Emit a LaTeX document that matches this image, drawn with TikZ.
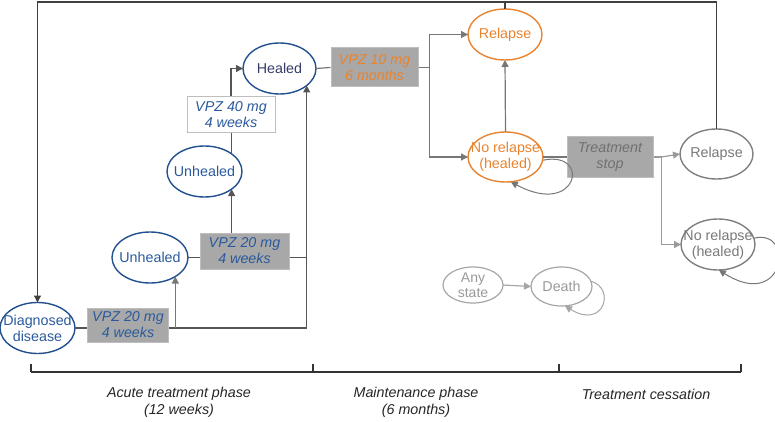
\documentclass[tikz,border=0pt]{standalone}
\usepackage{fontspec}
\setmainfont{Liberation Sans}
\usetikzlibrary{shapes.geometric,arrows.meta}
\definecolor{cblue}{HTML}{22508F}
\definecolor{cbluet}{HTML}{2A5A9C}
\definecolor{cnavy}{HTML}{333B66}
\definecolor{corange}{HTML}{E8832F}
\definecolor{cboxfill}{HTML}{A8A8A8}
\definecolor{cboxedge}{HTML}{BEBEBE}
\definecolor{cstop}{HTML}{707070}
\definecolor{cgrayell}{HTML}{7F7F7F}
\definecolor{cgraytxt}{HTML}{787878}
\definecolor{clight}{HTML}{A6A6A6}
\definecolor{clighttxt}{HTML}{999999}
\definecolor{cline}{HTML}{555555}
\definecolor{cline2}{HTML}{777777}
\definecolor{cline3}{HTML}{9A9A9A}
\begin{document}
\begin{tikzpicture}[x=1pt,y=-1pt,
  font=\fontsize{14.3}{16}\selectfont,
  ell/.style={ellipse, draw, line width=1.4pt, inner xsep=-20pt, inner ysep=-4pt, align=center, outer sep=0pt},
  blueell/.style={ell, draw=cblue, text=cbluet},
  orell/.style={ell, draw=corange, text=corange},
  grell/.style={ell, draw=cgrayell, text=cgraytxt},
  ltell/.style={ell, draw=clight, text=clighttxt, line width=1.2pt},
  boxg/.style={rectangle, fill=cboxfill, draw=cboxedge, line width=1pt, inner sep=0pt, align=center, font=\fontsize{14.3}{16}\selectfont\itshape},
  boxw/.style={boxg, fill=white, draw=cboxedge},
  conn/.style={draw=cline, line width=1.2pt},
  tip/.style={-{Triangle[length=7pt,width=7pt]}},
  phase/.style={align=center, font=\fontsize{14.3}{17}\selectfont\itshape, text=black!85}
]
\useasboundingbox (0,0) rectangle (775,422);

% nodes
\node[blueell, minimum width=75pt, minimum height=51pt] (diag) at (37.5,328) {Diagnosed\\disease};
\node[boxg, text=cbluet, minimum width=81pt, minimum height=34pt] (box1) at (128,325) {VPZ 20 mg\\4 weeks};
\node[blueell, minimum width=76pt, minimum height=51pt] (unh1) at (150,257.5) {Unhealed};
\node[boxg, text=cbluet, minimum width=89pt, minimum height=36pt] (box2) at (244.5,251) {VPZ 20 mg\\4 weeks};
\node[blueell, minimum width=75pt, minimum height=51pt] (unh2) at (204.5,171.5) {Unhealed};
\node[boxw, text=cbluet, minimum width=88pt, minimum height=36pt] (box3) at (231,115) {VPZ 40 mg\\4 weeks};
\node[blueell, text=cnavy, minimum width=73pt, minimum height=51pt] (healed) at (279.5,68.5) {Healed};
\node[boxg, text=corange, minimum width=87pt, minimum height=39pt] (box4) at (374.5,67.5) {VPZ 10 mg\\6 months};
\node[orell, minimum width=74pt, minimum height=51pt] (rel1) at (505,34.5) {Relapse};
\node[orell, minimum width=75pt, minimum height=50pt] (nor1) at (505.5,157) {No relapse\\(healed)};
\node[boxg, text=cstop, minimum width=86pt, minimum height=40pt] (stop) at (610,157) {Treatment\\stop};
\node[grell, minimum width=73pt, minimum height=50pt] (rel2) at (716.5,154) {Relapse};
\node[grell, minimum width=74pt, minimum height=51pt] (nor2) at (718,244.5) {No relapse\\(healed)};
\node[ltell, minimum width=60pt, minimum height=36pt, font=\fontsize{14}{15}\selectfont] (any) at (473,285) {Any\\state};
\node[ltell, minimum width=61pt, minimum height=39pt] (death) at (561.5,286.5) {Death};

% top feedback line
\coordinate (tr) at (716.5,2);
\coordinate (tl) at (37.5,2);
\draw[conn, draw=black!75, tip] (rel2.north) -- (tr) -- (tl) -- (diag.north);
\draw[conn, draw=black!75] (rel1.north) -- (rel1.north |- tr);

% acute phase
\draw[conn] (diag.east) -- (diag.east -| box1.west);
\draw[conn, tip] (diag.east -| box1.east) -| (healed.-32);
\draw[conn, draw=cline2, tip] (unh1.-37.5 |- diag.east) -- (unh1.-37.5);
\draw[conn] (unh1.east) -- (unh1.east -| box2.west);
\draw[conn] (unh1.east -| box2.east) -- (unh1.east -| healed.-32);
\draw[conn, tip] (unh2.-33 |- box2.north) -- (unh2.-33);
\draw[conn] (unh2.33) -- (unh2.33 |- box3.south);
\draw[conn, tip] (box3.north) |- (healed.west);

% maintenance phase
\draw[conn, draw=cline2] (healed.east) -- (box4.west);
\draw[conn, draw=cline2] (box4.east) -- ++(11,0) coordinate (j2);
\draw[conn, draw=cline2, tip] (j2) |- (rel1.west);
\draw[conn, draw=cline2, tip] (j2) |- (nor1.west);
\draw[conn, draw=cline2, tip] (nor1.north) -- (rel1.south);
\draw[conn, draw=cline2, line width=1pt, tip] (nor1.-5) .. controls (592,150) and (578,218) .. (nor1.-78);

% treatment cessation
\draw[conn, draw=cline2] (nor1.east) -- (stop.west);
\draw[conn, draw=cline3] (stop.east) -- ++(8,0) coordinate (j3);
\draw[conn, draw=cline3, tip] (j3) -- (rel2.west);
\draw[conn, draw=cline3, tip] (j3) |- (nor2.west);
\draw[conn, draw=cline2, line width=1pt, tip] (nor2.10) .. controls (796,228) and (785,312) .. (nor2.-88);

% death
\draw[conn, draw=clight, tip] (any.east) -- (death.west);
\draw[conn, draw=clight, line width=1pt, tip] (death.10) .. controls (616,288) and (604,330) .. (death.-80);

% phase axis
\coordinate (a0) at (31,372);
\coordinate (a1) at (313,372);
\coordinate (a2) at (559,372);
\coordinate (a3) at (741,372);
\draw[line width=1.2pt, draw=black!80] (a0) -- (a3);
\foreach \p in {a0,a1,a2,a3} \draw[line width=1.2pt, draw=black!80] (\p) -- ++(0,-8);
\node[phase] (ph1) at (179,402) {Acute treatment phase\\(12 weeks)};
\node[phase] (ph2) at (416,402) {Maintenance phase\\(6 months)};
\node[phase] (ph3) at (646,394) {Treatment cessation};
\end{tikzpicture}
\end{document}
